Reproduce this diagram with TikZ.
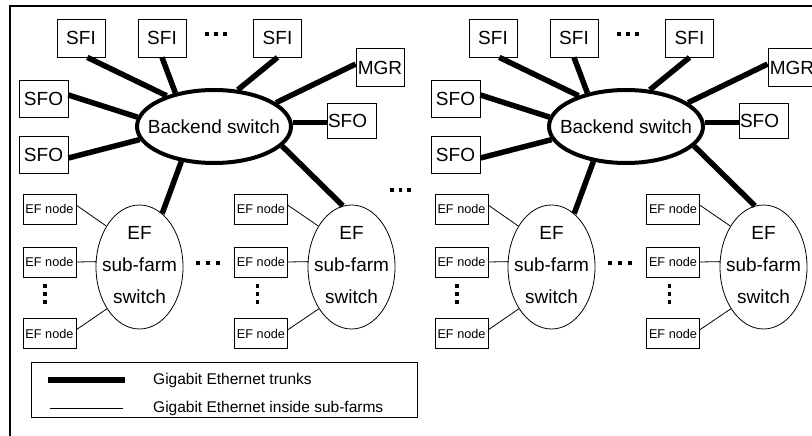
\documentclass[tikz,border=0pt]{standalone}
\usepackage{fontspec}
\setmainfont{Liberation Sans}
\usetikzlibrary{shapes.geometric}
\tikzset{
  box/.style={draw, line width=0.8bp, inner sep=0pt, minimum width=48bp, minimum height=38bp,
    font=\fontsize{19bp}{22bp}\selectfont},
  efbox/.style={draw, line width=0.8bp, inner sep=0pt, minimum width=53bp, minimum height=30bp,
    font=\fontsize{12.7bp}{14bp}\selectfont},
  bswitch/.style={draw, ellipse, line width=4bp, inner sep=0pt, minimum width=154bp, minimum height=73bp},
  bstext/.style={inner sep=0pt, font=\fontsize{19bp}{22bp}\selectfont},
  subsw/.style={draw, ellipse, line width=0.8bp, inner sep=0pt, minimum width=87bp, minimum height=124bp},
  swtext/.style={inner sep=0pt, align=center, font=\fontsize{19bp}{32bp}\selectfont, yshift=2bp},
  trunk/.style={line width=5.5bp},
  subline/.style={line width=0.8bp},
  legendtext/.style={inner sep=0pt, anchor=west, font=\fontsize{15.5bp}{18bp}\selectfont},
}
\newcommand\farmhalf[1]{%
  \node[box] (#1sfiA) at (81,38) {SFI};
  \node[box] (#1sfiB) at (162,38) {SFI};
  \node[box] (#1sfiC) at (277.5,38) {SFI};
  \node[box] (#1mgr) at (380,67.5) {MGR};
  \node[box, minimum height=37bp, minimum width=49bp] (#1sfoA) at (43.5,98.5) {SFO};
  \node[box, minimum height=37bp, minimum width=49bp] (#1sfoB) at (43.5,154.5) {SFO};
  \node[box, minimum height=35bp, minimum width=49bp, text width=47bp, align=left, inner xsep=1bp] (#1sfoC) at (351.5,120.5) {SFO};
  \node[bswitch, label={[bstext]center:Backend switch}] (#1bs) at (214,126.5) {};
  \node[subsw, label={[swtext]center:EF\\sub-farm\\switch}] (#1swA) at (139.5,267) {};
  \node[subsw, label={[swtext]center:EF\\sub-farm\\switch}] (#1swB) at (351.5,267) {};
  \node[efbox] (#1efA1) at (49.5,209) {EF node};
  \node[efbox] (#1efA2) at (49.5,262) {EF node};
  \node[efbox] (#1efA3) at (49.5,333.5) {EF node};
  \node[efbox] (#1efB1) at (261,209) {EF node};
  \node[efbox] (#1efB2) at (261,262) {EF node};
  \node[efbox] (#1efB3) at (261,333.5) {EF node};
  \draw[trunk] (#1sfiA.-72) -- (#1bs.147);
  \draw[trunk] (#1sfiB.south) -- (#1bs.139);
  \draw[trunk] (#1sfiC.south) -- (#1bs.57);
  \draw[trunk] (#1mgr.172) -- (#1bs.21);
  \draw[trunk] (#1sfoA.8) -- (#1bs.173);
  \draw[trunk] (#1sfoB.-8) -- (#1bs.190);
  \draw[trunk] (#1bs.3) -- (#1bs.3 -| #1sfoC.west);
  \draw[trunk] (#1bs.227) -- (#1swA.67);
  \draw[trunk] (#1bs.-16) -- (#1swB.98);
  \draw[subline] (#1efA1.8) -- (#1swA.129);
  \draw[subline] (#1efA2.east) -- (#1swA.173);
  \draw[subline] (#1efA3.8) -- (#1swA.232);
  \draw[subline] (#1efB1.8) -- (#1swB.129);
  \draw[subline] (#1efB2.east) -- (#1swB.173);
  \draw[subline] (#1efB3.8) -- (#1swB.232);
  \foreach \xx in {207,216,225} \fill (\xx-1.75,32.25) rectangle ++(3.5,3.5);
  \foreach \xx in {198,208,218} \fill (\xx-1.75,261.25) rectangle ++(3.5,3.5);
  \foreach \yy in {286,294,302} {
    \fill (45-1.75,\yy-1.75) rectangle ++(3.5,3.5);
    \fill (257.5-1.75,\yy-1.75) rectangle ++(3.5,3.5);
  }
}
\begin{document}
\begin{tikzpicture}[x=1bp, y=-1bp]
  \useasboundingbox (0,0) rectangle (812,436);
  \clip (0,0) rectangle (812,436);
  \draw[line width=1.2bp] (10,436) -- (10,6) -- (812,6);
  \farmhalf{L}
  \begin{scope}[xshift=412bp]
    \farmhalf{R}
  \end{scope}
  \foreach \xx in {392,400.5,409} \fill (\xx-1.75,188.25) rectangle ++(3.5,3.5);
  \node[draw, line width=1bp, minimum width=385bp, minimum height=54bp, inner sep=0pt] (legend) at (224.5,390) {};
  \coordinate (tkA) at (48,380);
  \coordinate (tkB) at (125,380);
  \coordinate (snA) at (50,408);
  \coordinate (snB) at (123,408);
  \draw[trunk] (tkA) -- (tkB);
  \draw[subline] (snA) -- (snB);
  \node[legendtext] (ltA) at (153,380) {Gigabit Ethernet trunks};
  \node[legendtext] (ltB) at (153,408) {Gigabit Ethernet inside sub-farms};
\end{tikzpicture}
\end{document}
